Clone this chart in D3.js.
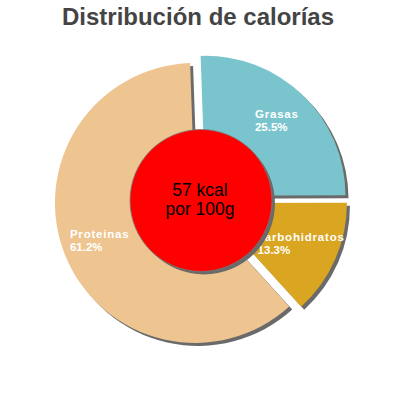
<!DOCTYPE html>
<html>
<head>
<meta charset="utf-8">
<script src="https://cdn.jsdelivr.net/npm/d3@7"></script>
<style>
  body { margin: 0; background: #fff; }
  text { font-family: "Liberation Sans", Arial, sans-serif; }
</style>
</head>
<body>
<script>
// slices of the pie, in drawing order (clockwise from the top)
var categories = ["Grasas", "carbohidratos", "Proteinas"];
var shares = [25.5, 13.3, 61.2];
var kcal = 57;
var titleText = "Distribución de calorías";

var W = 400, H = 400;
var cx = 201, cy = 200.5, R = 140, explode = 6.5;
var start = -2 * Math.PI / 180;

var data = categories.map(function(c, i) { return { name: c, v: shares[i] }; });

var svg = d3.select("body").append("svg")
    .attr("width", W).attr("height", H);

svg.append("text")
    .attr("x", 198).attr("y", 25)
    .attr("text-anchor", "middle")
    .attr("font-size", 24).attr("font-weight", "bold")
    .attr("fill", "#444")
    .text(titleText);

var color = d3.scaleOrdinal()
    .domain(categories)
    .range(["#7ac5cd", "#daa520", "#eec591"]);

var pie = d3.pie().sort(null).value(d => d.v)
    .startAngle(start).endAngle(start + 2 * Math.PI);
var arcs = pie(data);
var arc = d3.arc().innerRadius(0).outerRadius(R);
//point at 3/4 of the radius on the middle of each slice, for labels
var labelArc = d3.arc().innerRadius(R * 0.735).outerRadius(R * 0.735);

//each slice is pushed out along its middle angle
function off(d) {
    var m = (d.startAngle + d.endAngle) / 2;
    return [explode * Math.sin(m), -explode * Math.cos(m)];
}

var g = svg.append("g").attr("transform", `translate(${cx},${cy})`);

//shadows first
g.append("g").attr("transform", "translate(3,3)")
    .selectAll("path").data(arcs).join("path")
    .attr("transform", d => `translate(${off(d)})`)
    .attr("d", arc)
    .attr("fill", "#6a6a6a");

g.append("g")
    .selectAll("path").data(arcs).join("path")
    .attr("transform", d => `translate(${off(d)})`)
    .attr("d", arc)
    .attr("fill", d => color(d.data.name));

//labels, block centred on the label point but lines left aligned
var fmt = d3.format(".1f");
var labels = g.append("g").attr("fill", "#fff")
    .attr("font-size", 11.5).attr("font-weight", "bold")
    .selectAll("text").data(arcs).join("text");
labels.each(function(d) {
    var t = d3.select(this);
    var p = labelArc.centroid(d), o = off(d);
    var x = p[0] + o[0], y = p[1] + o[1];
    var l1 = t.append("tspan").attr("y", y - 3.5)
        .attr("letter-spacing", 0.8).text(d.data.name);
    var l2 = t.append("tspan").attr("y", y + 9).text(fmt(d.data.v) + "%");
    var w = Math.max(l1.node().getComputedTextLength(), l2.node().getComputedTextLength());
    l1.attr("x", x - w / 2);
    l2.attr("x", x - w / 2);
});

//centre disc
var rIn = R * 0.507;
g.append("circle").attr("cx", 3).attr("cy", 3).attr("r", rIn).attr("fill", "#6a6a6a");
g.append("circle").attr("r", rIn)
    .attr("fill", "#ff0000").attr("stroke", "#777").attr("stroke-width", 0.8);

var center = g.append("text")
    .attr("text-anchor", "middle").attr("font-size", 17.5).attr("fill", "#000");
center.append("tspan").attr("x", -1).attr("y", -5).text(kcal + " kcal");
center.append("tspan").attr("x", -1).attr("y", 14).text("por 100g");
</script>
</body>
</html>
